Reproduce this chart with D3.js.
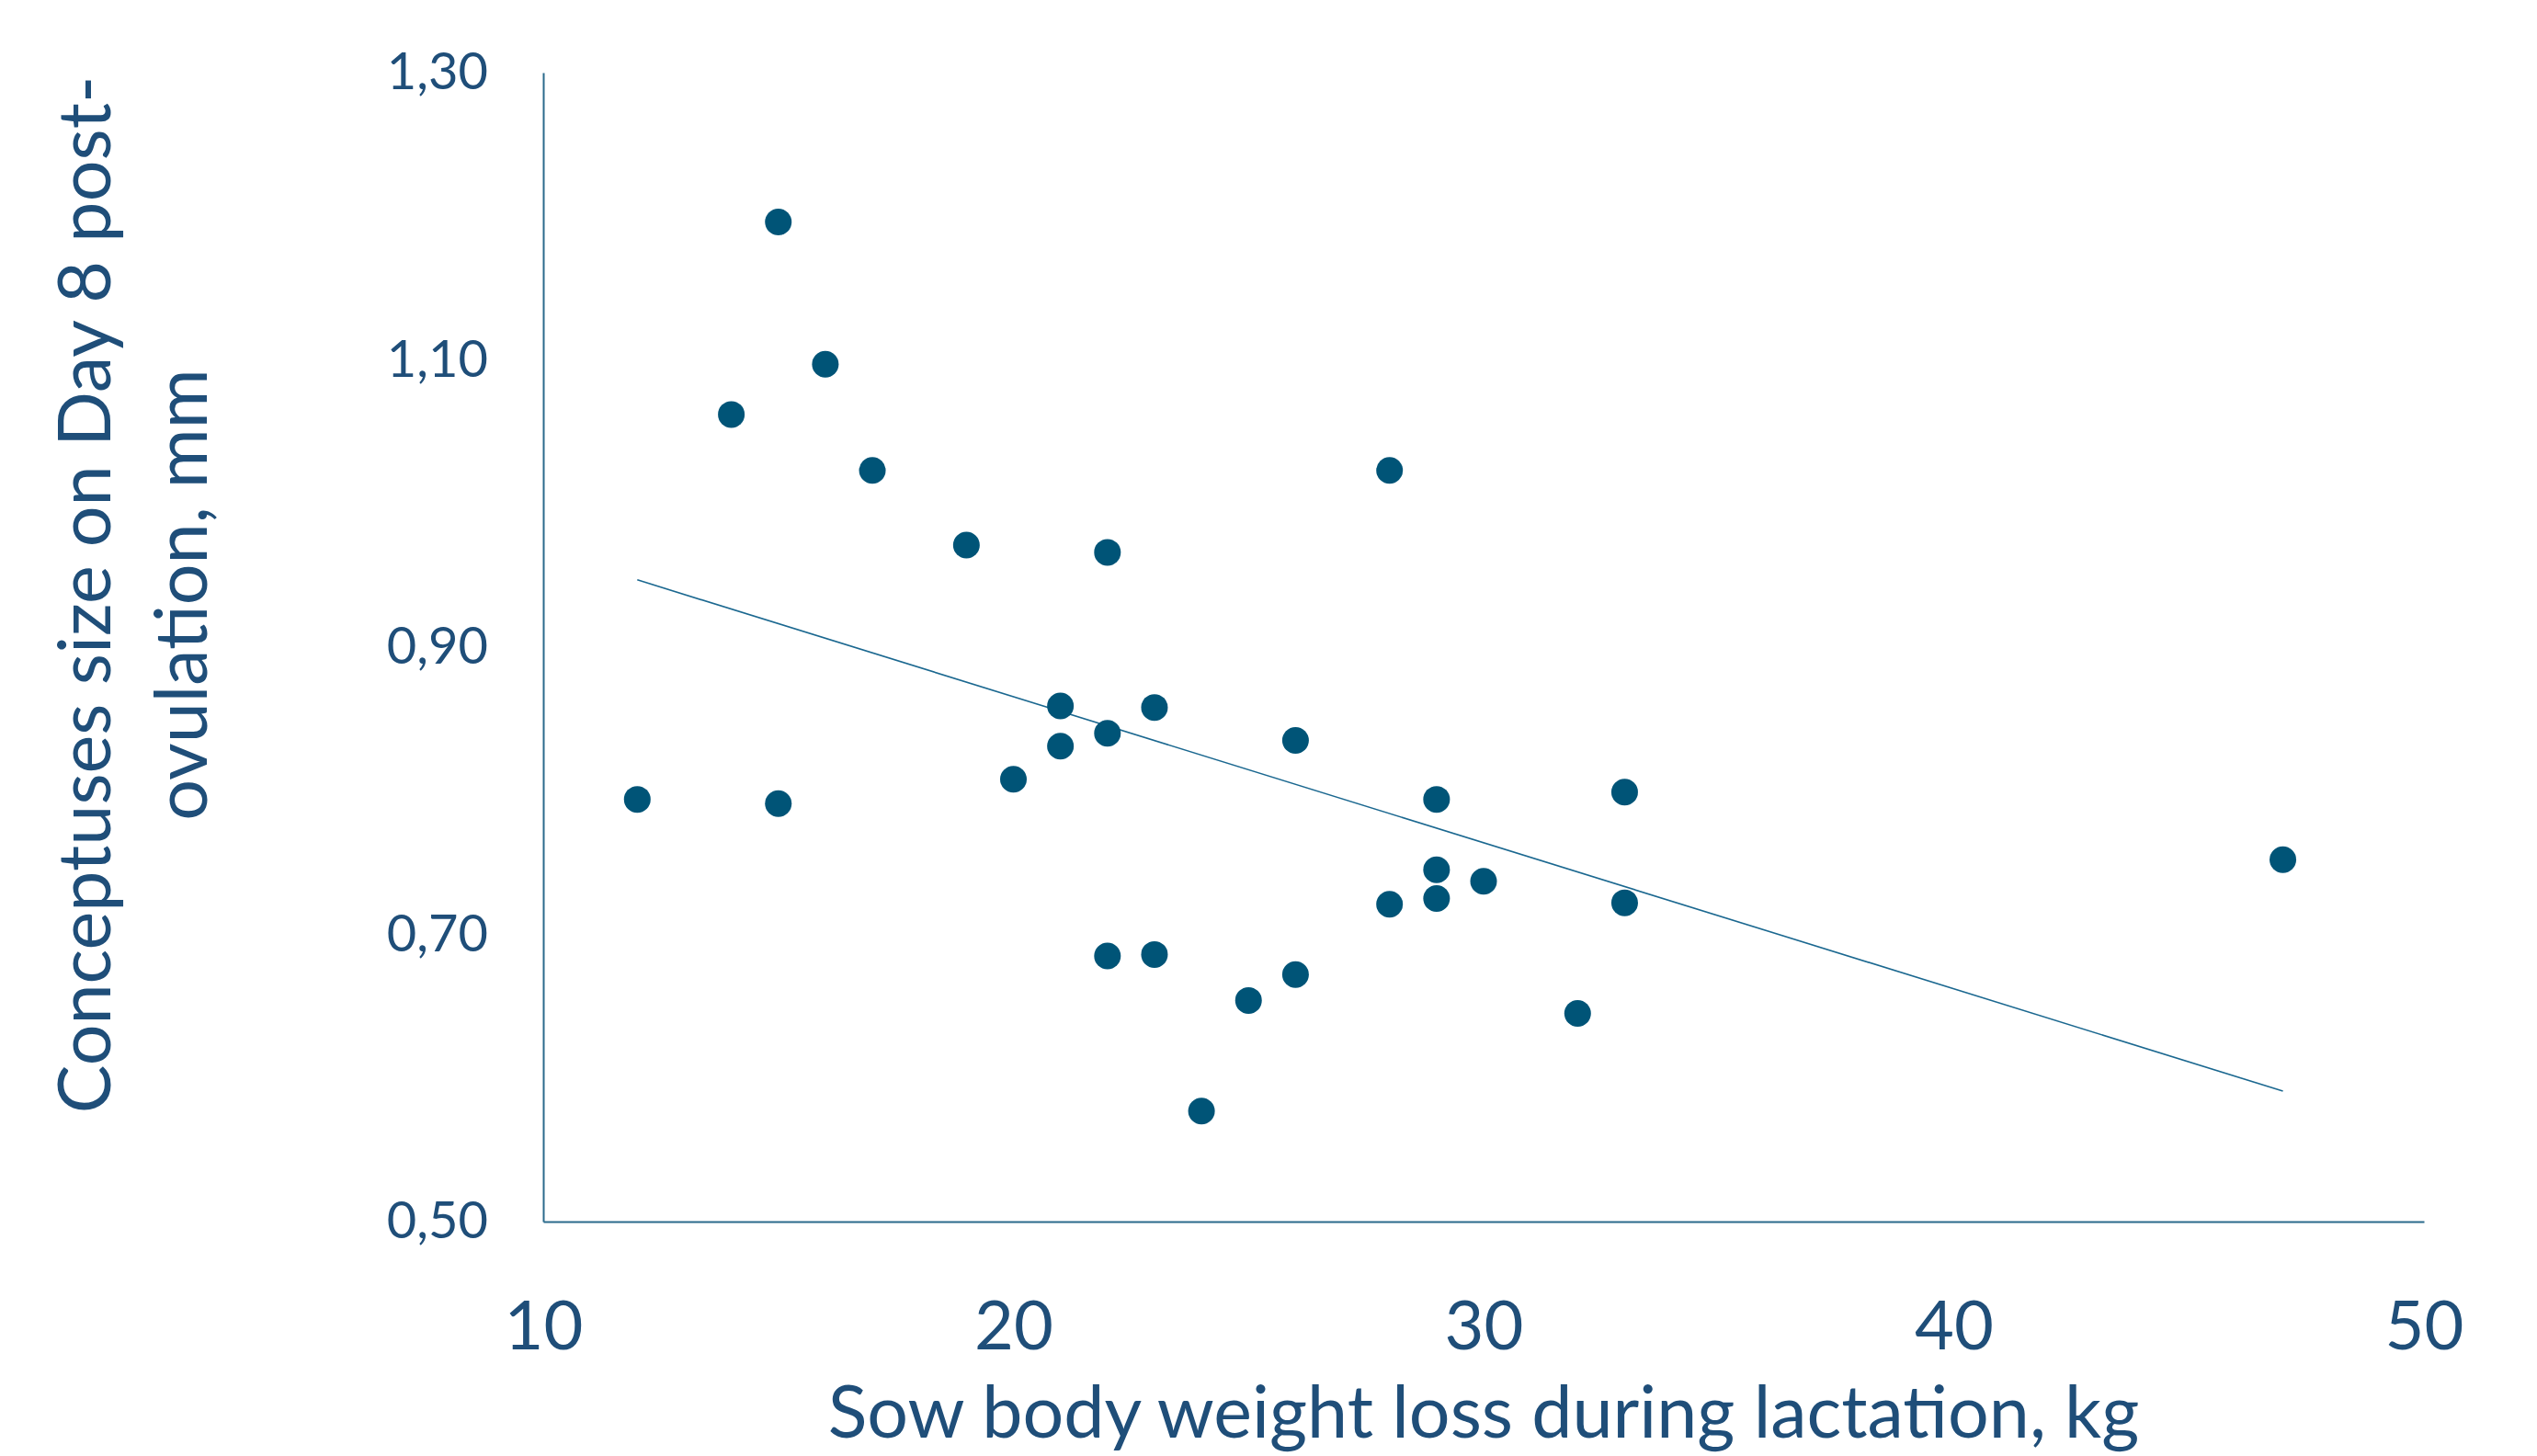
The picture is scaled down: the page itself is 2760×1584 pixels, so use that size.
<!DOCTYPE html>
<html>
<head>
<meta charset="utf-8">
<script src="https://cdn.jsdelivr.net/npm/d3@7"></script>
<style>
  html, body { margin: 0; padding: 0; background: #fff; }
  svg { display: block; font-family: Lato, "Noto Sans", sans-serif; }
</style>
</head>
<body>
<div id="chart"></div>
<script>
// sow body weight loss during lactation (kg)
const lossKg = [15, 16, 14, 17, 28, 19, 22, 21, 23, 22, 21, 26, 20, 12, 15,
                29, 33, 47, 29, 30, 29, 28, 33, 22, 23, 26, 25, 32, 24];
// conceptuses size on day 8 post-ovulation (mm)
const conceptusSize = [1.196, 1.097, 1.062, 1.023, 1.023, 0.971, 0.966, 0.859, 0.858, 0.840,
                       0.831, 0.835, 0.808, 0.794, 0.791, 0.794, 0.799, 0.752, 0.745, 0.737,
                       0.725, 0.721, 0.722, 0.685, 0.686, 0.672, 0.654, 0.645, 0.577];
const xTicks = [10, 20, 30, 40, 50];
const yTicks = [0.5, 0.7, 0.9, 1.1, 1.3];
const xTitle = 'Sow body weight loss during lactation, kg';
const yTitle = ['Conceptuses size on Day 8 post-', 'ovulation, mm'];

const W = 2760, H = 1584;
const margin = { top: 79, right: 123, bottom: 255, left: 591 };
const width = W - margin.left - margin.right;
const height = H - margin.top - margin.bottom;
const textColor = '#1f4e79';
const font = 'Lato, "Noto Sans", sans-serif';

const svg = d3.select('#chart').append('svg')
  .attr('width', W).attr('height', H);
const g = svg.append('g')
  .attr('transform', `translate(${margin.left},${margin.top})`);

const x = d3.scaleLinear().domain([10, 50]).range([0, width]);
const y = d3.scaleLinear().domain([0.5, 1.3]).range([height, 0]);

const fmt = d3.formatLocale({ decimal: ',', thousands: ' ', grouping: [3], currency: ['', ''] }).format('.2f');

const yAxis = g.append('g')
  .call(d3.axisLeft(y).tickValues(yTicks).tickFormat(fmt).tickSize(0).tickPadding(60))
  .attr('font-family', font);
yAxis.select('.domain').attr('stroke', '#2a6a8c').attr('stroke-width', 2);
yAxis.selectAll('text').attr('fill', textColor).style('font-size', '56px');

const xAxis = g.append('g')
  .attr('transform', `translate(0,${height})`)
  .call(d3.axisBottom(x).tickValues(xTicks).tickSize(0).tickPadding(86))
  .attr('font-family', font);
xAxis.select('.domain').attr('stroke', '#2a6a8c').attr('stroke-width', 2);
xAxis.selectAll('text').attr('fill', textColor).style('font-size', '74px');

// least squares trend line over the data range
const mx = d3.mean(lossKg), my = d3.mean(conceptusSize);
const sxy = d3.sum(lossKg, (v, i) => (v - mx) * (conceptusSize[i] - my));
const sxx = d3.sum(lossKg, v => (v - mx) * (v - mx));
const slope = sxy / sxx, intercept = my - slope * mx;
const ext = d3.extent(lossKg);
g.append('path')
  .datum(ext)
  .attr('fill', 'none')
  .attr('stroke', '#1b6890')
  .attr('stroke-width', 1.6)
  .attr('d', d3.line().x(d => x(d)).y(d => y(intercept + slope * d)));

g.selectAll('circle.pt')
  .data(lossKg.map((v, i) => [v, conceptusSize[i]]))
  .join('circle')
  .attr('class', 'pt')
  .attr('cx', d => x(d[0]))
  .attr('cy', d => y(d[1]))
  .attr('r', 14.5)
  .attr('fill', '#005477');

// axis titles
svg.append('text')
  .attr('x', margin.left + width / 2).attr('y', 1564)
  .attr('text-anchor', 'middle')
  .attr('fill', textColor)
  .style('font-size', '79px')
  .text(xTitle);

const yt = svg.append('text')
  .attr('transform', 'translate(0,647) rotate(-90)')
  .attr('text-anchor', 'middle')
  .attr('fill', textColor)
  .style('font-size', '79px');
yt.selectAll('tspan').data(yTitle).join('tspan')
  .attr('x', 0)
  .attr('y', (d, i) => 120 + i * 105)
  .text(d => d);
</script>
</body>
</html>
